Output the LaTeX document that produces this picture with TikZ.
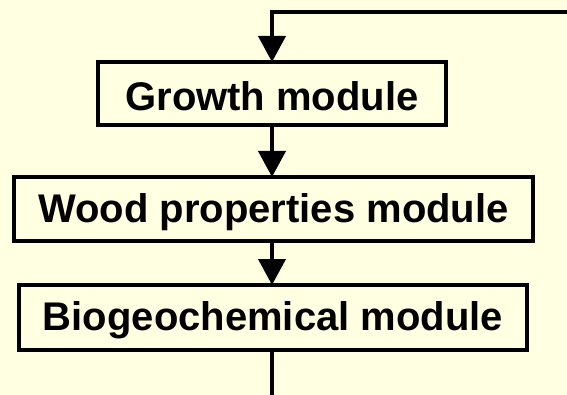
\documentclass[tikz,border=0pt]{standalone}
\usepackage{fontspec}
\setmainfont{Liberation Sans}
\usetikzlibrary{arrows.meta}
\definecolor{bgyellow}{RGB}{255,255,225}
\newcommand{\modtext}[1]{\raisebox{-3pt}[\height][\depth]{#1}}
\begin{document}
\begin{tikzpicture}[x=1pt,y=-1pt,
  modbox/.style={draw=black,line width=4pt,fill=bgyellow,rectangle,inner sep=0pt,outer sep=0pt,
     font=\fontsize{40}{42}\selectfont\bfseries},
  conn/.style={line width=4pt,draw=black},
  arr/.style={conn,-{Triangle[width=27pt,length=26pt]}}]
\fill[bgyellow] (0,0) rectangle (567,395);
\useasboundingbox (0,0) rectangle (567,395);
\node[modbox,minimum width=348pt,minimum height=63pt] (g) at (272,93.5) {\modtext{Growth module}};
\node[modbox,minimum width=519pt,minimum height=64pt] (w) at (273.5,209) {\modtext{Wood properties module}};
\node[modbox,minimum width=508pt,minimum height=65pt] (b) at (273,317.5) {\modtext{Biogeochemical module}};
\coordinate (tr) at (570,12);
\coordinate (bt) at (273,398);
\draw[arr] (tr) -- (g.north |- tr) -- (g.north);
\draw[arr] (g.south) -- (g.south |- w.north);
\draw[arr] (g.south |- w.south) -- (g.south |- b.north);
\draw[conn] (g.south |- b.south) -- (g.south |- bt);
\end{tikzpicture}
\end{document}
